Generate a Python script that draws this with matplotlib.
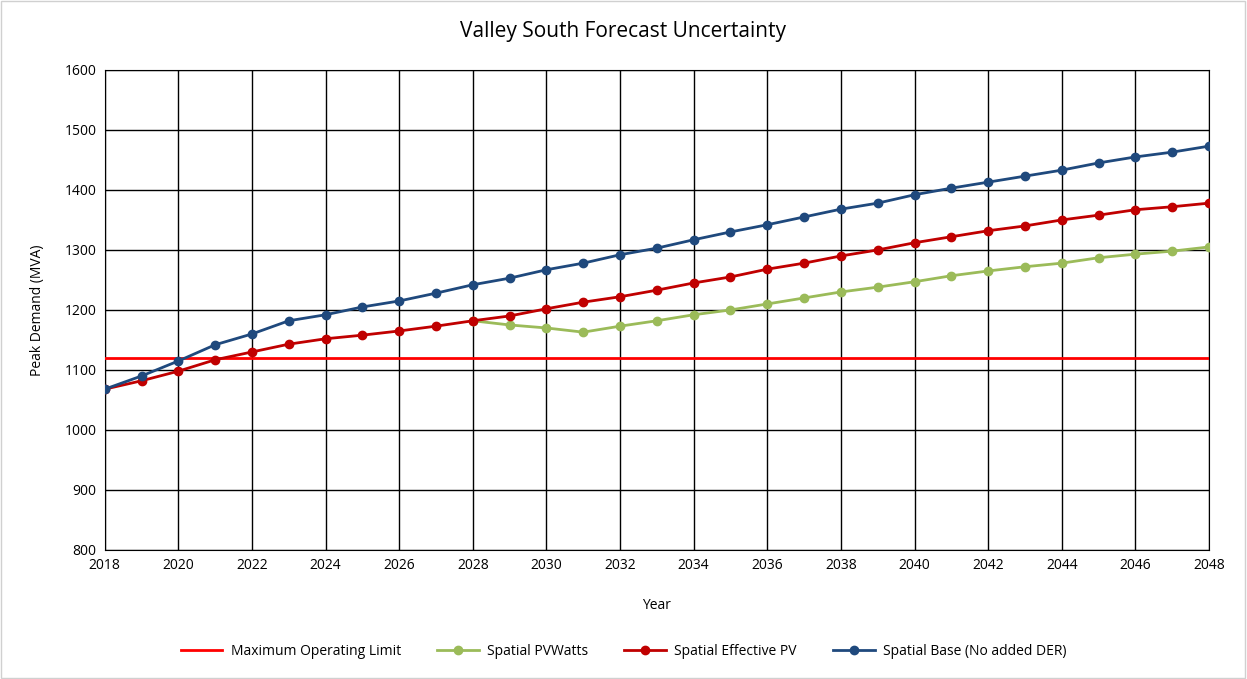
import numpy as np
import matplotlib.pyplot as plt

plt.rcParams['font.family'] = ['Open Sans', 'DejaVu Sans']

years = list(range(2018, 2049))
base = [1068, 1090, 1115, 1142, 1160, 1182, 1192, 1205, 1215, 1228, 1242,
        1253, 1267, 1278, 1292, 1303, 1317, 1330, 1342, 1355, 1368, 1378,
        1392, 1403, 1413, 1423, 1433, 1445, 1455, 1463, 1473]
effective_pv = [1068, 1082, 1098, 1117, 1130, 1143, 1152, 1158, 1165, 1173, 1182,
                1190, 1202, 1213, 1222, 1233, 1245, 1255, 1268, 1278, 1290, 1300,
                1312, 1322, 1332, 1340, 1350, 1358, 1367, 1372, 1378]
pvwatts_years = list(range(2028, 2049))
pvwatts = [1182, 1175, 1170, 1163, 1173, 1182, 1192, 1200, 1210, 1220, 1230,
           1238, 1247, 1257, 1265, 1272, 1278, 1287, 1293, 1298, 1305]
limit = 1120

fig = plt.figure(figsize=(12.47, 6.79), dpi=100)
ax = fig.add_axes([0.084, 0.19, 0.8855, 0.707])

ax.plot([years[0], years[-1]], [limit, limit], color='#ff0000', lw=2,
        label='Maximum Operating Limit', zorder=3)
ax.plot(pvwatts_years, pvwatts, color='#9bbb59', lw=2, marker='o', ms=6,
        label='Spatial PVWatts', zorder=4)
ax.plot(years, effective_pv, color='#c00000', lw=2, marker='o', ms=6,
        label='Spatial Effective PV', zorder=5)
ax.plot(years, base, color='#1f497d', lw=2, marker='o', ms=6,
        label='Spatial Base (No added DER)', zorder=6)

ax.set_xlim(2018, 2048)
ax.set_ylim(800, 1600)
ax.set_xticks(range(2018, 2049, 2))
ax.set_yticks(range(800, 1601, 100))
ax.grid(True, color='black', lw=1)
ax.set_axisbelow(True)
for s in ax.spines.values():
    s.set_color('black')
ax.tick_params(length=0, labelsize=10, pad=6)

ax.set_xlabel('Year', fontsize=10, labelpad=18)
ax.set_ylabel('Peak Demand (MVA)', fontsize=10, labelpad=14)
fig.text(0.5, 0.953, 'Valley South Forecast Uncertainty', fontsize=15,
         ha='center', va='center')

fig.legend(loc='center', bbox_to_anchor=(0.5, 0.041), ncol=4, frameon=False,
           fontsize=10, handlelength=3, handletextpad=0.6, columnspacing=2.6)

fig.patches.append(plt.Rectangle((0.001, 0.001), 0.997, 0.997, transform=fig.transFigure,
                                 fill=False, edgecolor='#d0d0d0', lw=1))

fig.savefig('out.png', dpi=100)
